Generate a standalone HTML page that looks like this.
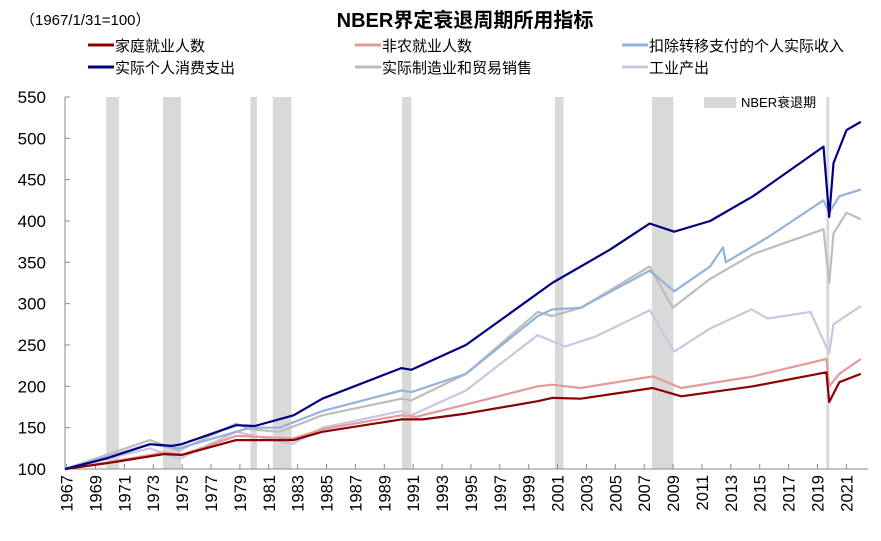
<!DOCTYPE html>
<html><head><meta charset="utf-8"><style>
body{margin:0;background:#fff;width:881px;height:536px;overflow:hidden}
svg text{font-family:"Liberation Sans","Noto Sans CJK SC",sans-serif}
</style></head><body>
<svg id="c" width="881" height="536"></svg>
<script>
const recStart=[1969.95,1973.9,1980.0,1981.55,1990.55,2001.2,2007.95,2020.1];
const recEnd=[1970.85,1975.15,1980.45,1982.85,1991.2,2001.8,2009.45,2020.3];
const yTicks=[100,150,200,250,300,350,400,450,500,550];
const xTickYears=[1967,1969,1971,1973,1975,1977,1979,1981,1983,1985,1987,1989,1991,1993,1995,1997,1999,2001,2003,2005,2007,2009,2011,2013,2015,2017,2019,2021];
const consT=[1967.08,1970,1973,1974.5,1975.2,1979,1980.3,1983,1985,1990.5,1991.2,1995,1999,2001,2005,2007.8,2009.5,2012,2015,2019.9,2020.3,2020.6,2021.5,2022.5];
const consV=[100,113,130,128,130,153,152,165,185,222,220,250,300,325,365,397,387,400,430,490,405,470,510,520];
const incT=[1967.08,1973,1975,1980,1982,1985,1990.5,1991.2,1995,2000,2001,2003,2007.8,2009.5,2012,2012.9,2013.1,2016,2019.9,2020.3,2021,2022.5];
const incV=[100,130,125,150,150,170,195,193,215,285,293,295,340,315,345,368,350,380,425,410,430,438];
const salT=[1967.08,1973,1975,1979,1980,1982,1985,1990.5,1991.2,1995,2000,2001,2003,2007.8,2009.4,2012,2015,2019.9,2020.3,2020.6,2021.5,2022.5];
const salV=[100,135,122,155,148,145,165,185,183,215,290,285,295,345,295,330,360,390,325,385,410,402];
const ipT=[1967.08,1973,1975,1979,1982.9,1985,1990.5,1991.2,1995,2000,2001.9,2004,2007.8,2009.5,2012,2014.9,2016,2019,2020.3,2020.6,2022.5];
const ipV=[100,125,112,145,130,150,170,165,195,262,248,260,292,242,270,293,282,290,240,275,297];
const nfpT=[1967.08,1970,1974,1975.2,1979,1983,1985,1990.5,1991.5,1995,2000,2001,2003,2008,2010,2015,2020.1,2020.3,2021,2022.5];
const nfpV=[100,108,120,117,140,137,148,165,163,178,200,202,198,212,198,212,233,200,215,233];
const hhT=[1967.08,1970,1974,1975.2,1979,1983,1985,1990.5,1992,1995,2000,2001,2003,2008,2010,2015,2020.1,2020.3,2021,2022.5];
const hhV=[100,107,118,117,135,135,145,160,160,167,182,186,185,198,188,200,217,181,205,215];

const X=y=>65+(y-1967.08)*14.36;
const TX=yr=>66.6+(yr-1967)*14.44;
const Y=v=>469-(v-100)*0.8267;
const svg=document.getElementById('c');
const NS='http://www.w3.org/2000/svg';
function mk(t,a,txt){const e=document.createElementNS(NS,t);for(const k in a)e.setAttribute(k,a[k]);if(txt!=null)e.textContent=txt;svg.appendChild(e);return e;}
for(let i=0;i<recStart.length;i++){
 const r=mk('rect',{x:X(recStart[i]),y:97,width:X(recEnd[i])-X(recStart[i]),height:372,fill:'#d9d9d9'});
 
 
}
let a=mk('line',{x1:65,y1:97,x2:65,y2:469,stroke:'#888','stroke-width':1});

a=mk('line',{x1:65,y1:469,x2:868,y2:469,stroke:'#888','stroke-width':1});

for(const v of yTicks){
 mk('line',{x1:65,y1:Y(v),x2:70,y2:Y(v),stroke:'#888'});
 const t=mk('text',{x:46,y:Y(v)+6,'text-anchor':'end','font-size':17,fill:'#000'},v);
 
}
for(const yr of xTickYears){
 mk('line',{x1:TX(yr),y1:464,x2:TX(yr),y2:469,stroke:'#888'});
 const t=mk('text',{x:0,y:0,'text-anchor':'end','font-size':16.5,fill:'#000',transform:`translate(${TX(yr)+6},475) rotate(-90)`},yr);
 
}
const series=[
 ['industrial-production',ipT,ipV,'#cfc4e0'],
 ['real-sales',salT,salV,'#bdbdbd'],
 ['real-income-ex-transfers',incT,incV,'#94b3da'],
 ['nonfarm-payroll',nfpT,nfpV,'#e29a9a'],
 ['household-employment',hhT,hhV,'#8b0000'],
 ['real-consumption',consT,consV,'#000080']];
for(const [n,t,v,c] of series){
 const p=mk('polyline',{points:t.map((x,i)=>X(x).toFixed(1)+','+Y(v[i]).toFixed(1)).join(' '),fill:'none',stroke:c,'stroke-width':2.2,'stroke-linejoin':'round'});
 
}
let t=mk('text',{x:20,y:25,'font-size':15,fill:'#000'},'（1967/1/31=100）');

t=mk('text',{x:465,y:27,'font-size':20,'font-weight':'bold','text-anchor':'middle',fill:'#000'},'NBER界定衰退周期所用指标');

const leg=[[88,45,'#8b0000','家庭就业人数'],[355,45,'#e29a9a','非农就业人数'],[622,45,'#94b3da','扣除转移支付的个人实际收入'],
 [88,67,'#000080','实际个人消费支出'],[355,67,'#bdbdbd','实际制造业和贸易销售'],[622,67,'#cfc4e0','工业产出']];
for(const [x,y,c,s] of leg){
 const l=mk('line',{x1:x,y1:y,x2:x+26,y2:y,stroke:c,'stroke-width':3});
 
 const tx=mk('text',{x:x+27,y:y+6,'font-size':15,fill:'#000'},s);
 
}
const nb=mk('rect',{x:704,y:97,width:32,height:11,fill:'#d9d9d9'});

t=mk('text',{x:741,y:107,'font-size':13,fill:'#000'},'NBER衰退期');

</script>
</body></html>
